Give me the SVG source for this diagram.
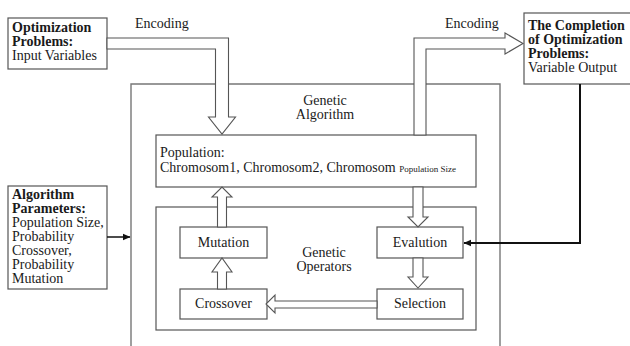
<svg xmlns="http://www.w3.org/2000/svg" width="630" height="346" viewBox="0 0 630 346">
  <style>
    text { font-family: "Liberation Serif", "Times New Roman", serif; font-size: 14px; fill: #1a1a1a; }
    .b { font-weight: bold; }
    .c { text-anchor: middle; }
    .box { fill: #ffffff; stroke: #555555; stroke-width: 1.2; }
    .frame { fill: none; stroke: #777777; stroke-width: 1.4; }
    .hollow { fill: #ffffff; stroke: #555555; stroke-width: 1.1; stroke-linejoin: miter; }
    .solid { fill: none; stroke: #111111; }
  </style>
  <defs>
    <marker id="head" markerWidth="8" markerHeight="8" refX="7" refY="4" orient="auto" markerUnits="userSpaceOnUse">
      <path d="M0,0.8 L7.5,4 L0,7.2 Z" fill="#111111"/>
    </marker>
  </defs>

  <rect width="630" height="346" fill="#ffffff"/>

  <!-- Genetic Algorithm outer frame (open at the bottom) -->
  <g id="genetic-algorithm">
    <path class="frame" d="M131,346 V84 H500 V346"/>
    <text class="c" x="325" y="105">Genetic</text>
    <text class="c" x="325" y="119">Algorithm</text>
  </g>

  <g id="optimization-problems">
    <rect class="box" x="8" y="18" width="99" height="51"/>
    <text class="b" x="12" y="32">Optimization</text>
    <text class="b" x="12" y="46">Problems:</text>
    <text x="12" y="60">Input Variables</text>
  </g>

  <g id="completion">
    <rect class="box" x="524" y="13" width="110" height="71"/>
    <text class="b" x="528" y="30">The Completion</text>
    <text class="b" x="528" y="44">of Optimization</text>
    <text class="b" x="528" y="58">Problems:</text>
    <text x="528" y="72">Variable Output</text>
  </g>

  <g id="algorithm-parameters">
    <rect class="box" x="8" y="186" width="99" height="103"/>
    <text class="b" x="12" y="199">Algorithm</text>
    <text class="b" x="12" y="213">Parameters:</text>
    <text x="12" y="227">Population Size,</text>
    <text x="12" y="241">Probability</text>
    <text x="12" y="255">Crossover,</text>
    <text x="12" y="269">Probability</text>
    <text x="12" y="283">Mutation</text>
  </g>

  <g id="population">
    <rect class="box" x="156" y="135" width="320" height="52"/>
    <text x="160" y="157">Population:</text>
    <text x="160" y="172">Chromosom1, Chromosom2, Chromosom <tspan font-size="9">Population Size</tspan></text>
  </g>

  <g id="genetic-operators">
    <rect class="box" x="156" y="207" width="320" height="123"/>
    <text class="c" x="324" y="257">Genetic</text>
    <text class="c" x="324" y="271">Operators</text>
  </g>

  <g id="mutation">
    <rect class="box" x="180" y="227" width="87" height="31"/>
    <text class="c" x="223.5" y="247">Mutation</text>
  </g>

  <g id="crossover">
    <rect class="box" x="180" y="289" width="87" height="30"/>
    <text class="c" x="223.5" y="308">Crossover</text>
  </g>

  <g id="evalution">
    <rect class="box" x="377" y="227" width="86" height="31"/>
    <text class="c" x="420" y="247">Evalution</text>
  </g>

  <g id="selection">
    <rect class="box" x="377" y="289" width="86" height="30"/>
    <text class="c" x="420" y="308">Selection</text>
  </g>

  <g id="connectors">
    <!-- encoding into the population -->
    <polygon class="hollow" points="107,38 228.5,38 228.5,117 235.5,117 222,134 208.5,117 215.5,117 215.5,49 107,49"/>
    <text x="135" y="28">Encoding</text>
    <!-- encoding out to the completed problem -->
    <polygon class="hollow" points="414,135 414,38 505,38 505,33 523,43.5 505,54 505,49 426,49 426,135"/>
    <text x="445" y="28">Encoding</text>

    <!-- population to evalution -->
    <polygon class="hollow" points="413,187 423,187 423,217 428,217 418,227 408,217 413,217"/>
    <!-- evalution to selection -->
    <polygon class="hollow" points="413,258 423,258 423,277 428,277 418,288 408,277 413,277"/>
    <!-- selection to crossover -->
    <polygon class="hollow" points="377,301 275,301 275,295 266,304 275,313 275,308 377,308"/>
    <!-- crossover to mutation -->
    <polygon class="hollow" points="217.5,289 217.5,272 212,272 222,258 232,272 226.5,272 226.5,289"/>
    <!-- mutation to population -->
    <polygon class="hollow" points="217.5,227 217.5,197 212,197 222,187 232,197 226.5,197 226.5,227"/>

    <!-- parameters into the algorithm -->
    <line class="solid" x1="107" y1="237" x2="130" y2="237" stroke-width="1.5" marker-end="url(#head)"/>
    <!-- feedback from the completed problem to evalution -->
    <polyline class="solid" points="580,84 580,243 464,243" stroke-width="2" marker-end="url(#head)"/>
  </g>
</svg>
